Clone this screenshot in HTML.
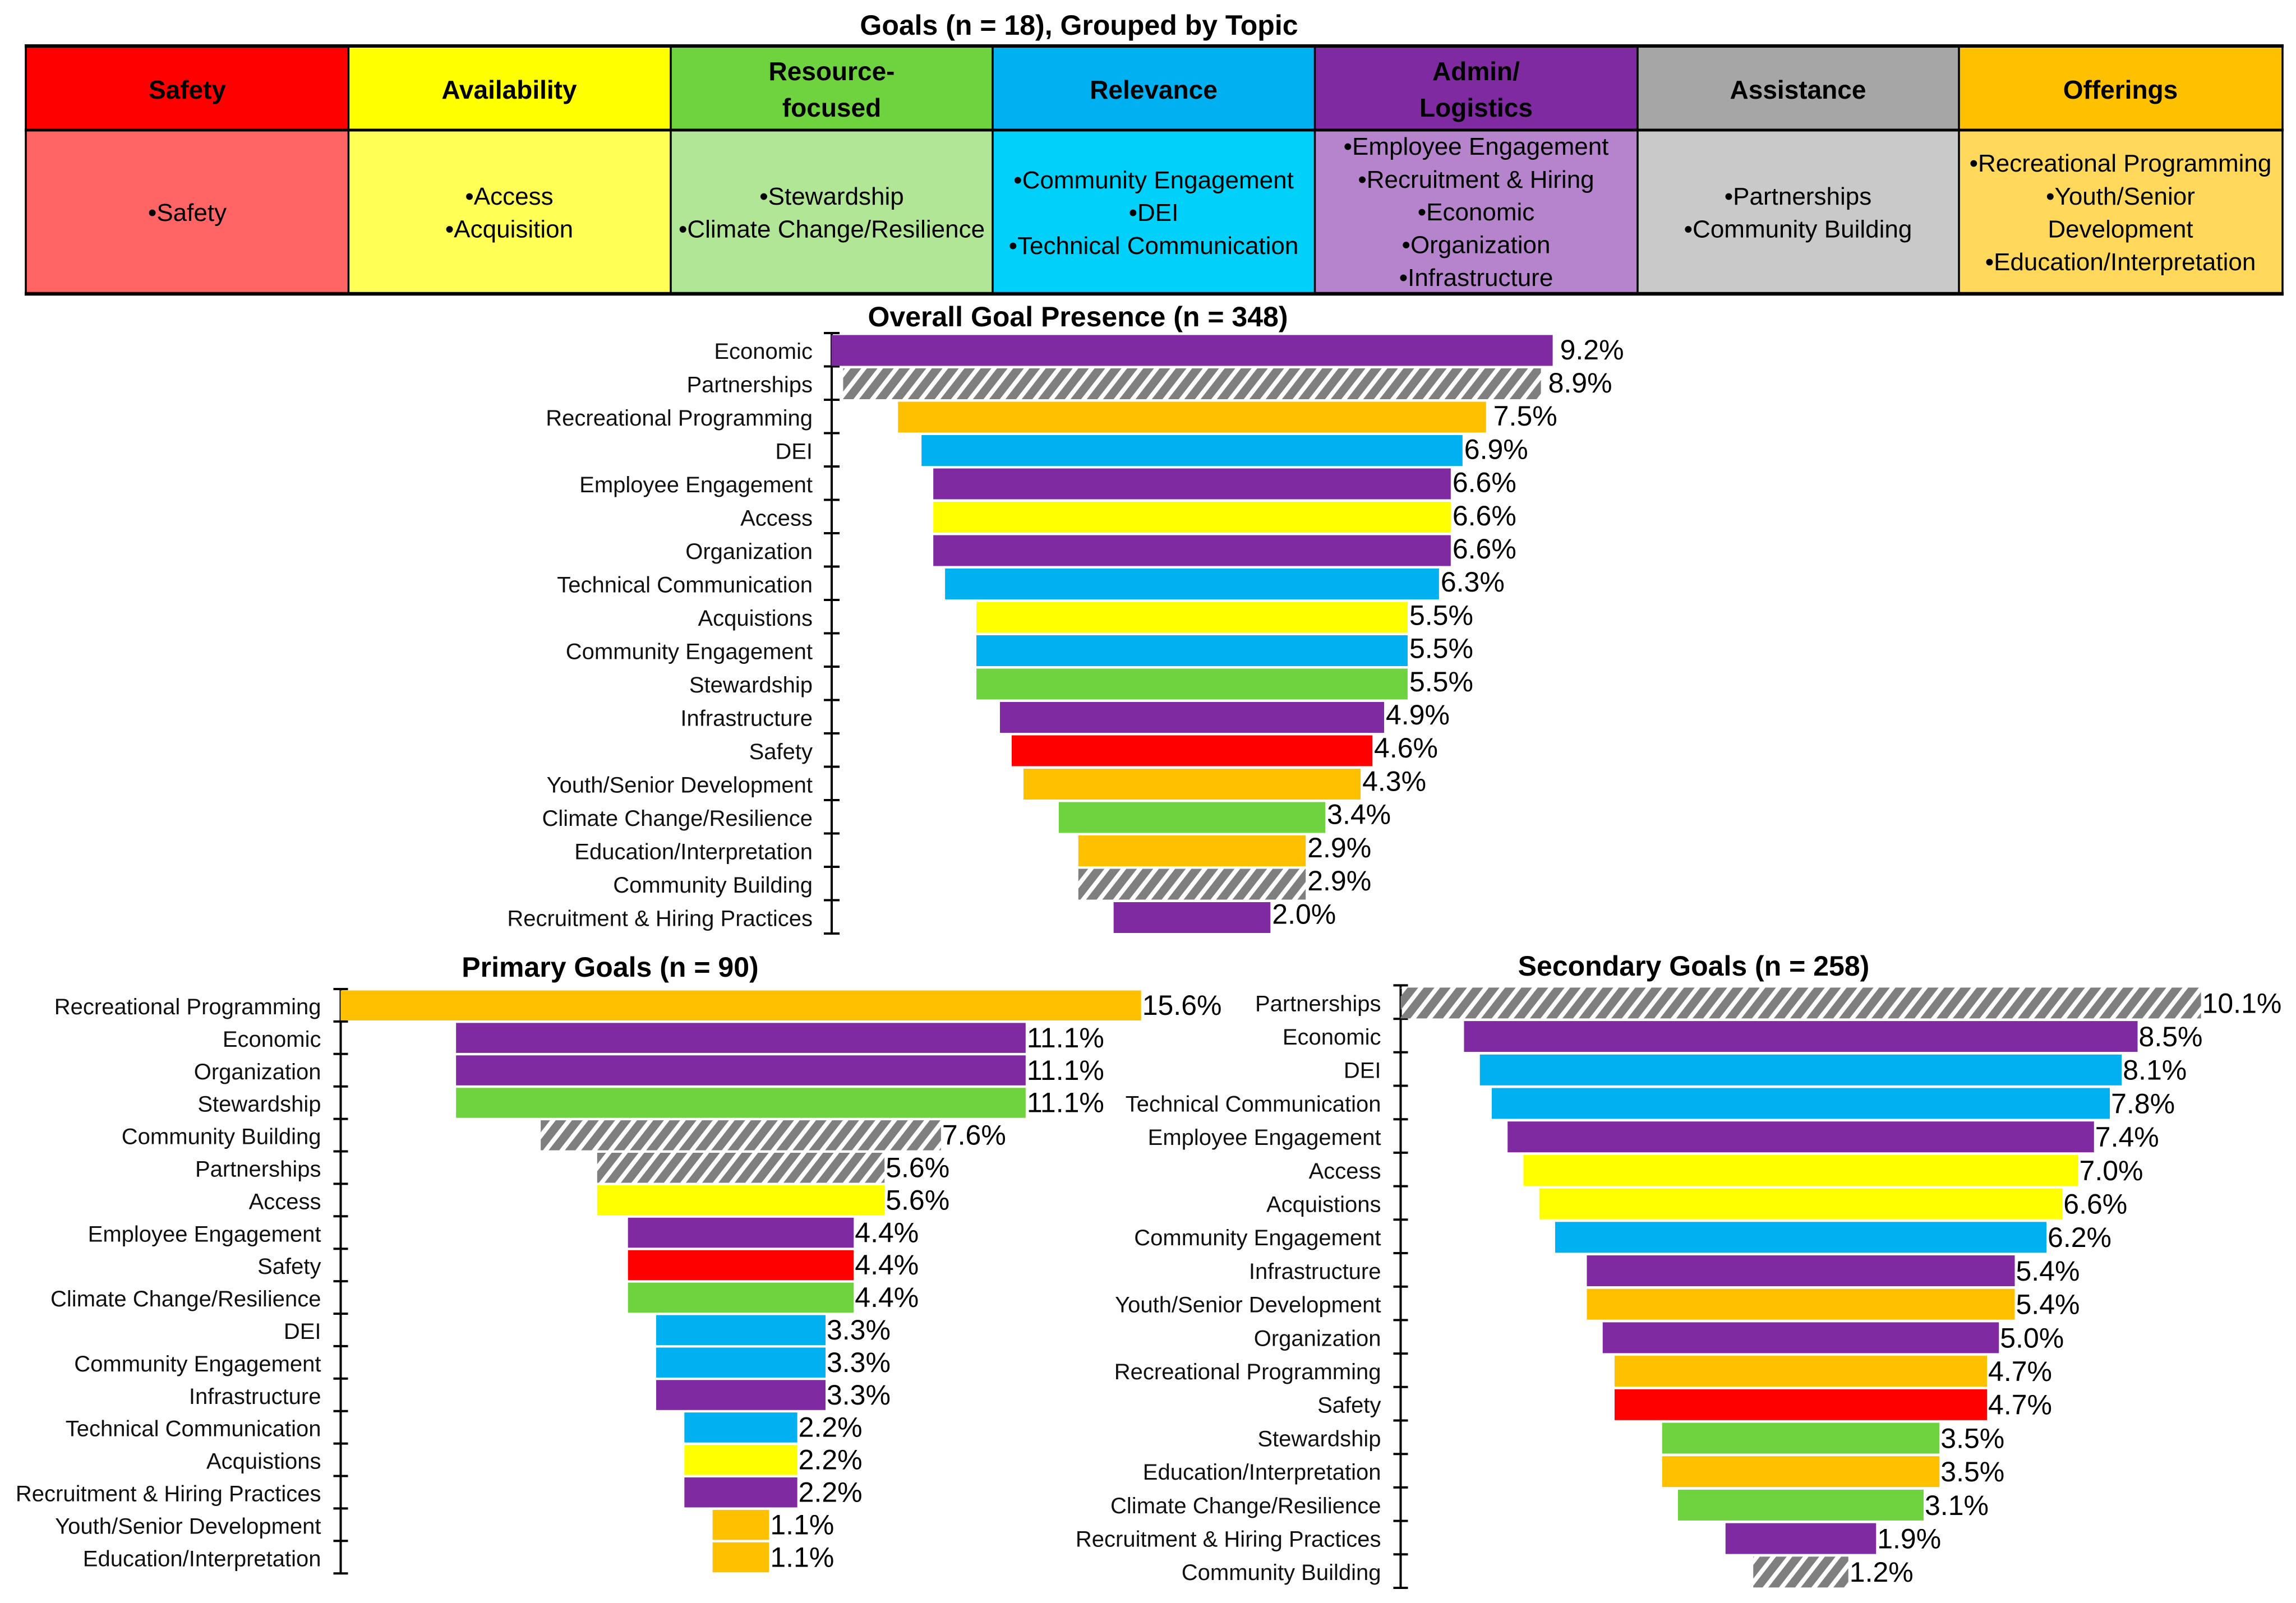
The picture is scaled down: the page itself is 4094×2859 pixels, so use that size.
<!DOCTYPE html>
<html lang="en">
<head>
<meta charset="utf-8">
<title>Goals Grouped by Topic</title>
<style>
html,body{margin:0;padding:0;background:#fff;}
svg{display:block;font-family:"Liberation Sans",sans-serif;}
.title{font-size:50px;font-weight:700;text-anchor:middle;fill:#000;}
.h{font-size:46px;font-weight:700;text-anchor:middle;fill:#000;}
.b{font-size:44px;text-anchor:middle;fill:#000;}
.cat{font-size:40px;text-anchor:end;fill:#111;}
.val{font-size:50px;text-anchor:start;fill:#000;}
</style>
</head>
<body>
<svg id="root" xmlns="http://www.w3.org/2000/svg" width="4094" height="2859" viewBox="0 0 4094 2859">
<defs>
<pattern id="hatch" patternUnits="userSpaceOnUse" width="29" height="41" patternTransform="skewX(-38)">
<rect x="0" y="0" width="19" height="41" fill="#7f7f7f"></rect>
</pattern>
</defs>
<rect x="0" y="0" width="4094" height="2859" fill="#ffffff"></rect>

<text class="title" x="1924" y="62">Goals (n = 18), Grouped by Topic</text>

<g>
<rect x="46" y="82" width="575" height="150" fill="#ff0000"></rect>
<rect x="621" y="82" width="575" height="150" fill="#ffff00"></rect>
<rect x="1196" y="82" width="574" height="150" fill="#6fd33f"></rect>
<rect x="1770" y="82" width="575" height="150" fill="#00b0f0"></rect>
<rect x="2345" y="82" width="575" height="150" fill="#7f2aa0"></rect>
<rect x="2920" y="82" width="573" height="150" fill="#a6a6a6"></rect>
<rect x="3493" y="82" width="577" height="150" fill="#ffc000"></rect>

<rect x="46" y="232" width="575" height="292" fill="#ff6565"></rect>
<rect x="621" y="232" width="575" height="292" fill="#ffff55"></rect>
<rect x="1196" y="232" width="574" height="292" fill="#b0e695"></rect>
<rect x="1770" y="232" width="575" height="292" fill="#00d0fa"></rect>
<rect x="2345" y="232" width="575" height="292" fill="#b684cc"></rect>
<rect x="2920" y="232" width="573" height="292" fill="#c9c9c9"></rect>
<rect x="3493" y="232" width="577" height="292" fill="#ffd85c"></rect>

<g stroke="#000" fill="none">
<line x1="44" y1="82" x2="4072" y2="82" stroke-width="6"></line>
<line x1="44" y1="232" x2="4072" y2="232" stroke-width="5"></line>
<line x1="44" y1="524" x2="4072" y2="524" stroke-width="6.5"></line>
<line x1="46" y1="80" x2="46" y2="527" stroke-width="3.5"></line>
<line x1="621.4" y1="80" x2="621.4" y2="527" stroke-width="3.5"></line>
<line x1="1196" y1="80" x2="1196" y2="527" stroke-width="3.5"></line>
<line x1="1770" y1="80" x2="1770" y2="527" stroke-width="3.5"></line>
<line x1="2344.5" y1="80" x2="2344.5" y2="527" stroke-width="3.5"></line>
<line x1="2920" y1="80" x2="2920" y2="527" stroke-width="3.5"></line>
<line x1="3493" y1="80" x2="3493" y2="527" stroke-width="3.5"></line>
<line x1="4070" y1="80" x2="4070" y2="527" stroke-width="3.5"></line>
</g>

<text class="h" x="334" y="176">Safety</text>
<text class="h" x="908" y="176">Availability</text>
<text class="h" x="1483" y="143">Resource-</text>
<text class="h" x="1483" y="208">focused</text>
<text class="h" x="2057" y="176">Relevance</text>
<text class="h" x="2632" y="143">Admin/</text>
<text class="h" x="2632" y="208">Logistics</text>
<text class="h" x="3206" y="176">Assistance</text>
<text class="h" x="3781" y="176">Offerings</text>

<text class="b" x="334" y="394">•Safety</text>
<text class="b" x="908" y="365">•Access</text>
<text class="b" x="908" y="423.5">•Acquisition</text>
<text class="b" x="1483" y="365">•Stewardship</text>
<text class="b" x="1483" y="423.5">•Climate Change/Resilience</text>
<text class="b" x="2057" y="336">•Community Engagement</text>
<text class="b" x="2057" y="394">•DEI</text>
<text class="b" x="2057" y="453">•Technical Communication</text>
<text class="b" x="2632" y="276">•Employee Engagement</text>
<text class="b" x="2632" y="335">•Recruitment &amp; Hiring</text>
<text class="b" x="2632" y="393">•Economic</text>
<text class="b" x="2632" y="451.5">•Organization</text>
<text class="b" x="2632" y="510">•Infrastructure</text>
<text class="b" x="3206" y="365">•Partnerships</text>
<text class="b" x="3206" y="423.5">•Community Building</text>
<text class="b" x="3781" y="306">•Recreational Programming</text>
<text class="b" x="3781" y="365">•Youth/Senior</text>
<text class="b" x="3781" y="423.5">Development</text>
<text class="b" x="3781" y="482">•Education/Interpretation</text>
</g>
</svg>

<script>
const overallCategories = ["Economic","Partnerships","Recreational Programming","DEI","Employee Engagement","Access","Organization","Technical Communication","Acquistions","Community Engagement","Stewardship","Infrastructure","Safety","Youth/Senior Development","Climate Change/Resilience","Education/Interpretation","Community Building","Recruitment & Hiring Practices"];
const overallValues = [9.2,8.9,7.5,6.9,6.6,6.6,6.6,6.3,5.5,5.5,5.5,4.9,4.6,4.3,3.4,2.9,2.9,2.0];

const primaryCategories = ["Recreational Programming","Economic","Organization","Stewardship","Community Building","Partnerships","Access","Employee Engagement","Safety","Climate Change/Resilience","DEI","Community Engagement","Infrastructure","Technical Communication","Acquistions","Recruitment & Hiring Practices","Youth/Senior Development","Education/Interpretation"];
const primaryValues = [15.6,11.1,11.1,11.1,7.8,5.6,5.6,4.4,4.4,4.4,3.3,3.3,3.3,2.2,2.2,2.2,1.1,1.1];
const primaryPrintedOverrides = {"Community Building": "7.6%"};

const secondaryCategories = ["Partnerships","Economic","DEI","Technical Communication","Employee Engagement","Access","Acquistions","Community Engagement","Infrastructure","Youth/Senior Development","Organization","Recreational Programming","Safety","Stewardship","Education/Interpretation","Climate Change/Resilience","Recruitment & Hiring Practices","Community Building"];
const secondaryValues = [10.1,8.5,8.1,7.8,7.4,7.0,6.6,6.2,5.4,5.4,5.0,4.7,4.7,3.5,3.5,3.1,1.9,1.2];

const topicFill = {
  safety: "#ff0000",
  availability: "#ffff00",
  resource: "#6fd33f",
  relevance: "#00b0f0",
  admin: "#7f2aa0",
  assistance: "url(#hatch)",
  offerings: "#ffc000"
};
const categoryTopic = {
  "Safety": "safety",
  "Access": "availability",
  "Acquistions": "availability",
  "Stewardship": "resource",
  "Climate Change/Resilience": "resource",
  "Community Engagement": "relevance",
  "DEI": "relevance",
  "Technical Communication": "relevance",
  "Employee Engagement": "admin",
  "Recruitment & Hiring Practices": "admin",
  "Economic": "admin",
  "Organization": "admin",
  "Infrastructure": "admin",
  "Partnerships": "assistance",
  "Community Building": "assistance",
  "Recreational Programming": "offerings",
  "Youth/Senior Development": "offerings",
  "Education/Interpretation": "offerings"
};

const SVG_NS = "http://www.w3.org/2000/svg";
const root = document.getElementById("root");

function make(tag, parent, props) {
  const el = document.createElementNS(SVG_NS, tag);
  for (const k in props) el.setAttribute(k, props[k]);
  parent.appendChild(el);
  return el;
}
function slug(s) {
  return s.toLowerCase().replace(/[^a-z0-9]+/g, "-").replace(/^-|-$/g, "");
}

function drawFunnel(cfg, categories, values, printedOverrides) {
  const g = make("g", root, {});
  
  

  const xHalf = v => v * cfg.pxPerUnit / 2;
  const yBand = i => cfg.axisTop + i * cfg.step;
  const bandCenter = i => yBand(i) + cfg.step / 2;

  const title = make("text", g, {class: "title", x: cfg.titleX, y: cfg.titleY});
  title.textContent = cfg.title;
  
  

  const axis = make("line", g, {x1: cfg.axisX, x2: cfg.axisX, y1: yBand(0), y2: yBand(categories.length), stroke: "#000", "stroke-width": 4});
  
  

  for (let i = 0; i <= categories.length; i++) {
    const tick = make("line", g, {x1: cfg.axisX - cfg.tickHalf, x2: cfg.axisX + cfg.tickHalf, y1: yBand(i), y2: yBand(i), stroke: "#000", "stroke-width": 4});
    
    
  }

  categories.forEach((name, i) => {
    const v = values[i];
    const half = xHalf(v);
    const bar = make("rect", g, {
      x: cfg.centerX - half,
      y: yBand(i) + cfg.barInset,
      width: half * 2,
      height: cfg.barHeight,
      fill: topicFill[categoryTopic[name]]
    });
    
    

    const cat = make("text", g, {class: "cat", x: cfg.labelRight, y: bandCenter(i) + 16});
    cat.textContent = name;
    
    

    const gap = i < cfg.wideGapCount ? cfg.wideGap : cfg.gap;
    const drift = cfg.valueShift + cfg.valueDrift * i / (categories.length - 1);
    const val = make("text", g, {class: "val", x: cfg.centerX + half + gap, y: bandCenter(i) + 17 + drift});
    val.textContent = (printedOverrides && printedOverrides[name]) || (v.toFixed(1) + "%");
    
    
  });
}

drawFunnel({
  key: "overall", title: "Overall Goal Presence (n = 348)", titleX: 1922, titleY: 582,
  axisX: 1483, tickHalf: 14, axisTop: 594, step: 59.5,
  centerX: 2125.5, pxPerUnit: 139.8, barInset: 3.5, barHeight: 55,
  labelRight: 1449, gap: 3, wideGap: 13, wideGapCount: 3, valueShift: 0, valueDrift: -5
}, overallCategories, overallValues, null);

drawFunnel({
  key: "primary", title: "Primary Goals (n = 90)", titleX: 1088, titleY: 1742,
  axisX: 607.5, tickHalf: 13, axisTop: 1764, step: 57.9,
  centerX: 1321, pxPerUnit: 91.5, barInset: 2.5, barHeight: 53.5,
  labelRight: 572.5, gap: 2, wideGap: 2, wideGapCount: 0, valueShift: 0, valueDrift: 0
}, primaryCategories, primaryValues, primaryPrintedOverrides);

drawFunnel({
  key: "secondary", title: "Secondary Goals (n = 258)", titleX: 3020, titleY: 1740,
  axisX: 2497.5, tickHalf: 13, axisTop: 1757.4, step: 59.7,
  centerX: 3211, pxPerUnit: 141.3, barInset: 4, barHeight: 55,
  labelRight: 2462.5, gap: 2, wideGap: 2, wideGapCount: 0, valueShift: 2, valueDrift: 0
}, secondaryCategories, secondaryValues, null);
</script>
</body>
</html>
